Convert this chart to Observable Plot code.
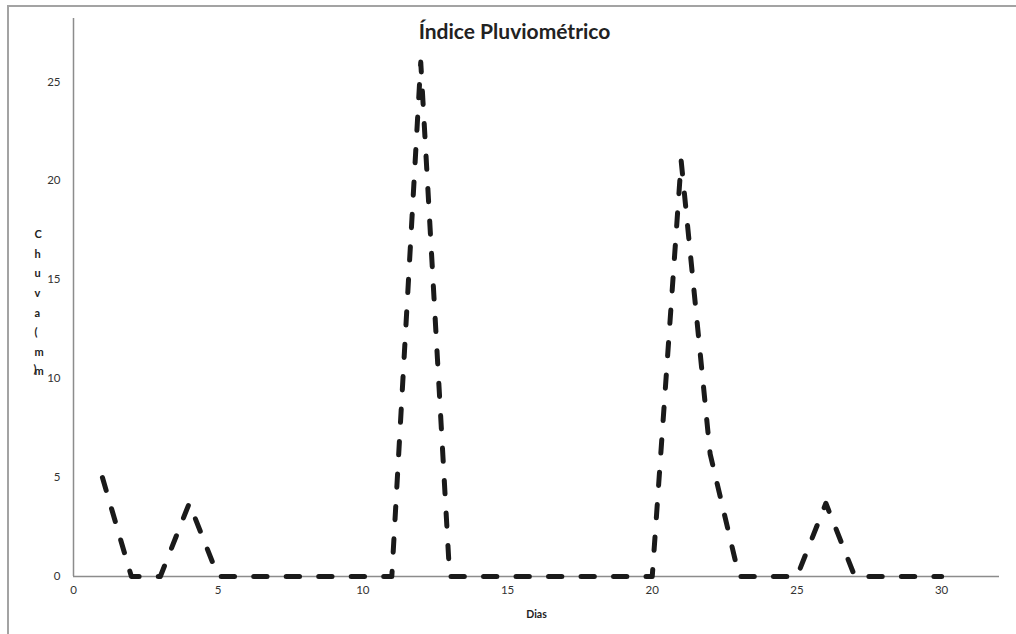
<!DOCTYPE html>
<html>
<head>
<meta charset="utf-8">
<script src="https://cdn.jsdelivr.net/npm/d3@7"></script>
<script src="https://cdn.jsdelivr.net/npm/@observablehq/plot@0.6"></script>
<style>
  html, body { margin: 0; padding: 0; background: #fff; overflow: hidden; }
  #wrap { position: relative; width: 1016px; height: 634px; overflow: hidden; }
  #border { position: absolute; left: 7px; top: 5px; width: 1200px; height: 800px;
            border: 2px solid #a3a3a3; pointer-events: none; }
  svg { display: block; }
</style>
</head>
<body>
<div id="wrap"><div id="border"></div></div>
<script>
const title = "Índice Pluviométrico";
const xLabel = "Dias";
const yLabelLetters = ["C", "h", "u", "v", "a", "(", "m", "m"];
const yLabelLast = ")";
const days = [1,2,3,4,5,6,7,8,9,10,11,12,13,14,15,16,17,18,19,20,21,22,23,24,25,26,27,28,29,30];
const rain = [5,0,0,3.7,0,0,0,0,0,0,0,26,0,0,0,0,0,0,0,0,21,6.2,0,0,0,3.7,0,0,0,0];
const xTicks = [0,5,10,15,20,25,30];
const yTicks = [0,5,10,15,20,25];

const data = days.map((d, i) => ({day: d, rain: rain[i]}));
const font = "Lato, 'Open Sans', sans-serif";

const chart = Plot.plot({
  width: 1016,
  height: 634,
  marginLeft: 73,
  marginRight: 17,
  marginTop: 18,
  marginBottom: 58,
  style: {fontFamily: font, fontSize: "11.5px", color: "#333", background: "transparent"},
  x: {domain: [0, 32], ticks: xTicks, tickSize: 0, tickPadding: 9, label: null},
  y: {domain: [0, 28.2], ticks: yTicks, tickSize: 0, tickPadding: 13, label: null},
  marks: [
    Plot.ruleY([0], {stroke: "#8c8c8c", strokeWidth: 1.5}),
    Plot.ruleX([0], {stroke: "#8c8c8c", strokeWidth: 1.5}),
    Plot.line(data, {x: "day", y: "rain", stroke: "#1a1a1a", strokeWidth: 5,
      strokeDasharray: "13.3,19.2", strokeLinecap: "round", strokeLinejoin: "round"}),
    Plot.text([title], {text: d => d, frameAnchor: "top", dx: -22, dy: 14, fontSize: 21,
      fontWeight: "bold", fill: "#222", lineAnchor: "middle"}),
    Plot.text([xLabel], {text: d => d, frameAnchor: "bottom", dy: 38, fontSize: 10.5,
      fontWeight: "bold", fill: "#222", lineAnchor: "middle"}),
    Plot.text([yLabelLetters.join("\n")], {text: d => d, frameAnchor: "left", dx: -39, dy: 3,
      fontSize: 11, fontWeight: "bold", fill: "#222", lineAnchor: "middle", lineHeight: 1.78}),
    Plot.text([yLabelLast], {text: d => d, frameAnchor: "left", dx: -40, dy: 72,
      fontSize: 11, fontWeight: "bold", fill: "#222", lineAnchor: "middle"})
  ]
});
document.getElementById("wrap").prepend(chart);
</script>
</body>
</html>
